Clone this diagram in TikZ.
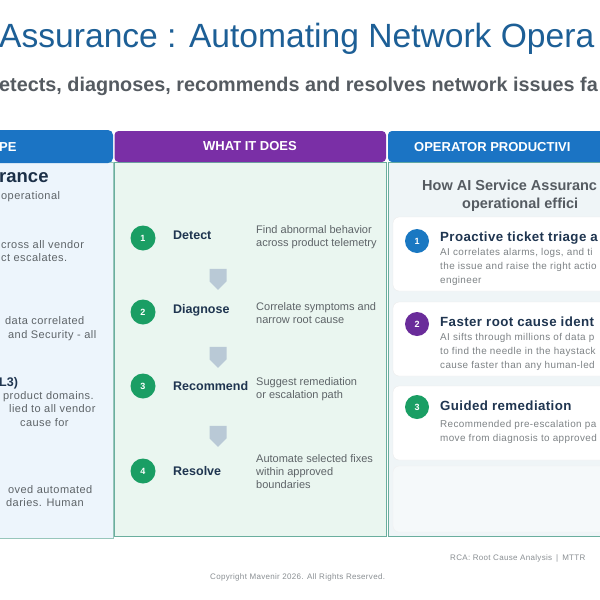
\documentclass[tikz,border=0pt]{standalone}
\usepackage{fontspec}
\setmainfont{Liberation Sans}
\usetikzlibrary{shapes.arrows}
\definecolor{titleblue}{HTML}{1D5F96}
\definecolor{subgray}{HTML}{555B61}
\definecolor{hdrblue}{HTML}{1B74C4}
\definecolor{hdrpurple}{HTML}{7A2FA6}
\definecolor{bodyblue}{HTML}{EDF5FC}
\definecolor{bodymint}{HTML}{EAF6F0}
\definecolor{bodyright}{HTML}{EFF5F7}
\definecolor{tealline}{HTML}{6AAE9E}
\definecolor{stepgreen}{HTML}{1A9E64}
\definecolor{navy}{HTML}{1F3550}
\definecolor{descgray}{HTML}{5E6468}
\definecolor{arrowgray}{HTML}{B9C9D6}
\definecolor{cpurple}{HTML}{6A2C9A}
\definecolor{cblue}{HTML}{1A78C2}
\definecolor{footgray}{HTML}{8A8F93}
\newfontfamily\wide[LetterSpace=4]{Liberation Sans}
\tikzset{
  hdr/.style={anchor=center,text=white,font=\bfseries\fontsize{13}{15}\selectfont},
  num/.style={circle,minimum size=25pt,inner sep=0pt,text=white,font=\bfseries\fontsize{9}{10}\selectfont},
  steplbl/.style={anchor=west,inner sep=0pt,text=navy,font=\bfseries\fontsize{12.5}{14}\selectfont},
  desc/.style={anchor=north west,inner sep=0pt,text=descgray,align=left,font=\fontsize{11}{13.4}\selectfont},
  lefttxt/.style={anchor=north west,inner sep=0pt,text=descgray,align=left,font=\wide\fontsize{11}{13.8}\selectfont},
  cardtitle/.style={anchor=west,inner sep=0pt,text=navy,font=\bfseries\fontsize{13.3}{15}\selectfont\addfontfeature{LetterSpace=3}},
  carddesc/.style={anchor=north west,inner sep=0pt,text=descgray!80,align=left,font=\wide\fontsize{9.9}{14}\selectfont},
  card/.style={fill=white,draw=gray!15,rounded corners=6pt},
  downarrow/.style={single arrow,fill=arrowgray,draw=none,rotate=-90,minimum height=21pt,minimum width=17pt,single arrow head extend=0pt,inner sep=3pt},
  foot/.style={anchor=base west,inner sep=0pt,text=footgray,font=\wide\fontsize{8}{9}\selectfont}
}
\begin{document}
\begin{tikzpicture}[x=1pt,y=-1pt]
\useasboundingbox (0,0) rectangle (600,600);
\clip (0,0) rectangle (600,600);
\fill[white] (0,0) rectangle (600,600);
% title
\node[anchor=base west,inner sep=0pt,text=titleblue,font=\fontsize{33.6}{38}\selectfont] (title) at (-1,47) {Assurance : Automating Network Opera};
\node[anchor=base west,inner sep=0pt,text=subgray,font=\bfseries\fontsize{19.8}{22}\selectfont] (sub) at (-1,91) {etects, diagnoses, recommends and resolves network issues fa};
% left column
\fill[bodyblue,draw=tealline!70] (-5,162) rectangle (113,538);
\fill[hdrblue,rounded corners=5pt] (-10,130) rectangle (113,163);
\node[hdr,anchor=west,inner sep=0pt] (lh) at (-1,147) {PE};
\node[anchor=base west,inner sep=0pt,text=navy!90!black,font=\bfseries\fontsize{18.5}{20}\selectfont] (lt) at (-1,182) {rance};
\node[lefttxt] (l1) at (1,191) {operational};
\node[lefttxt] (l2) at (1,240) {cross all vendor\\ct escalates.};
\node[lefttxt] (l3) at (5,316) {data correlated};
\node[lefttxt] (l3b) at (8,330) {and Security - all};
\node[anchor=base west,inner sep=0pt,text=navy,font=\bfseries\fontsize{12.5}{14}\selectfont] (l4) at (-1,386) {L3)};
\node[lefttxt] (l5) at (3,391) {product domains.};
\node[lefttxt] (l5b) at (9,404) {lied to all vendor};
\node[lefttxt] (l5c) at (20,418) {cause for};
\node[lefttxt] (l6) at (8,485) {oved automated};
\node[lefttxt] (l6b) at (6,498) {daries. Human};
% middle column
\fill[bodymint,draw=tealline,line width=0.8pt] (114.5,162) rectangle (386,536);
\fill[hdrpurple,rounded corners=4pt] (114.5,131) rectangle (386,162);
\node[hdr] (mh) at (250,146.5) {WHAT IT DOES};
\node[num,fill=stepgreen] (s1) at (143,238) {1};
\node[num,fill=stepgreen] (s2) at (143,312) {2};
\node[num,fill=stepgreen] (s3) at (143,386) {3};
\node[num,fill=stepgreen] (s4) at (143,471) {4};
\node[steplbl] (d1) at (173,235) {Detect};
\node[steplbl] (d2) at (173,310) {Diagnose};
\node[steplbl] (d3) at (173,386) {Recommend};
\node[steplbl] (d4) at (173,471) {Resolve};
\node[desc] (t1) at (256,225) {Find abnormal behavior\\across product telemetry};
\node[desc] (t2) at (256,302) {Correlate symptoms and\\narrow root cause};
\node[desc] (t3) at (256,377) {Suggest remediation\\or escalation path};
\node[desc] (t4) at (256,454) {Automate selected fixes\\within approved\\boundaries};
\node[downarrow] (a1) at (218,275) {};
\node[downarrow] (a2) at (218,353) {};
\node[downarrow] (a3) at (218,432) {};
% right column
\fill[bodyright,draw=tealline,line width=0.8pt] (388,162) rectangle (620,536);
\fill[hdrblue,rounded corners=4pt] (388,131) rectangle (620,162);
\node[hdr,anchor=west,inner sep=0pt] (rh) at (414,147) {OPERATOR PRODUCTIVI};
\node[anchor=base west,inner sep=0pt,text=subgray,font=\bfseries\fontsize{14.5}{16}\selectfont] (q1) at (422,190) {How AI Service Assuranc};
\node[anchor=base west,inner sep=0pt,text=subgray,font=\bfseries\fontsize{14.5}{16}\selectfont] (q2) at (462,208) {operational effici};
\draw[card] (393,217) rectangle (640,291);
\draw[card] (393,302) rectangle (640,376);
\draw[card] (393,386) rectangle (640,460);
\draw[fill=bodyright!60!white,draw=gray!12,rounded corners=6pt] (393,466) rectangle (640,532);
\node[num,fill=cblue,minimum size=24pt] (c1) at (417,241) {1};
\node[num,fill=cpurple,minimum size=24pt] (c2) at (417,324) {2};
\node[num,fill=stepgreen,minimum size=24pt] (c3) at (417,407) {3};
\node[cardtitle] (ct1) at (440,238) {Proactive ticket triage a};
\node[cardtitle] (ct2) at (440,322) {Faster root cause ident};
\node[cardtitle] (ct3) at (440,406) {Guided remediation};
\node[carddesc] (cd1) at (440,248) {AI correlates alarms, logs, and ti\\the issue and raise the right actio\\engineer};
\node[carddesc] (cd2) at (440,333) {AI sifts through millions of data p\\to find the needle in the haystack\\cause faster than any human-led};
\node[carddesc] (cd3) at (440,420) {Recommended pre-escalation pa\\move from diagnosis to approved};
% footer
\node[foot] (f1) at (450,560) {RCA: Root Cause Analysis\enspace|\enspace MTTR};
\node[foot] (f2) at (210,579) {Copyright Mavenir 2026. All Rights Reserved.};
\end{tikzpicture}
\end{document}
